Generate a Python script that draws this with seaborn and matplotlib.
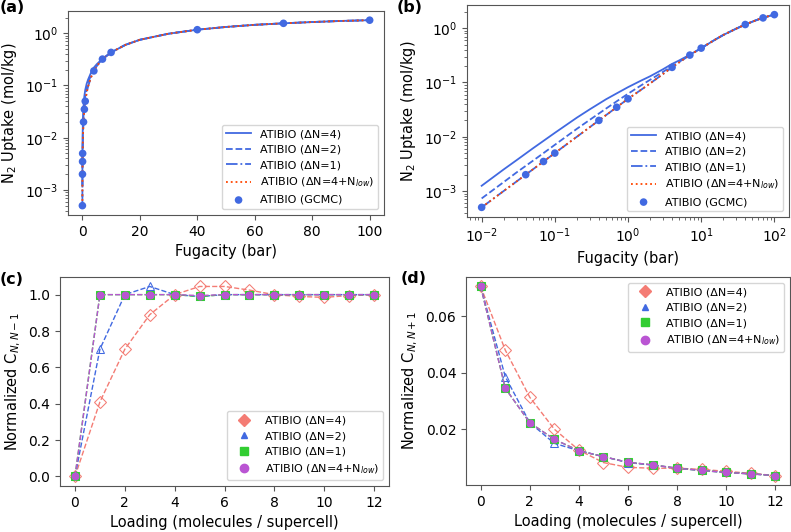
import numpy as np
import pandas as pd
import matplotlib
matplotlib.use('Agg')
import matplotlib.pyplot as plt
from matplotlib.lines import Line2D
import seaborn as sns

# datos de isotermas (fugacidad en bar, captación en mol/kg)
fug = [0.01, 0.02, 0.03, 0.05, 0.07, 0.1, 0.2, 0.3, 0.5, 0.7, 1, 1.5, 2, 3, 4, 5, 7,
       10, 15, 20, 30, 40, 50, 60, 70, 80, 90, 100]
up_dn4 = [1.25e-3, 2.5e-3, 3.7e-3, 6.1e-3, 8.4e-3, 1.18e-2, 2.25e-2, 3.2e-2, 4.9e-2, 6.3e-2,
          8.2e-2, 0.108, 0.13, 0.175, 0.22, 0.255, 0.325,
          0.43, 0.60, 0.75, 0.98, 1.17, 1.32, 1.45, 1.55, 1.64, 1.72, 1.78]
up_dn2 = [7.3e-4, 1.46e-3, 2.2e-3, 3.6e-3, 5.0e-3, 7.1e-3, 1.4e-2, 2.05e-2, 3.3e-2, 4.5e-2,
          6.2e-2, 8.8e-2, 0.112, 0.157, 0.2, 0.24, 0.32,
          0.43, 0.60, 0.75, 0.98, 1.17, 1.32, 1.45, 1.55, 1.64, 1.72, 1.78]
up_dn1 = [5e-4, 1e-3, 1.5e-3, 2.5e-3, 3.5e-3, 5e-3, 1e-2, 1.5e-2, 2.5e-2, 3.5e-2,
          5e-2, 7.3e-2, 0.096, 0.143, 0.19, 0.235, 0.32,
          0.43, 0.60, 0.75, 0.98, 1.17, 1.32, 1.45, 1.55, 1.64, 1.72, 1.78]
up_low = [5e-4, 1e-3, 1.5e-3, 2.5e-3, 3.5e-3, 5e-3, 1e-2, 1.5e-2, 2.5e-2, 3.5e-2,
          5e-2, 7.3e-2, 0.096, 0.143, 0.19, 0.235, 0.32,
          0.43, 0.60, 0.75, 0.98, 1.17, 1.32, 1.45, 1.55, 1.64, 1.72, 1.78]

fug_gcmc = [0.01, 0.04, 0.07, 0.1, 0.4, 0.7, 1, 4, 7, 10, 40, 70, 100]
up_gcmc = [5e-4, 2e-3, 3.5e-3, 5e-3, 2e-2, 3.5e-2, 5e-2, 0.19, 0.32, 0.43, 1.17, 1.55, 1.78]

# datos de correlaciones normalizadas
loading = list(range(13))
cm_dn4 = [0.0, 0.41, 0.70, 0.89, 1.0, 1.045, 1.045, 1.025, 1.0, 0.99, 0.985, 0.995, 1.0]
cm_dn2 = [0.0, 0.70, 1.0, 1.045, 1.0, 0.99, 1.0, 1.0, 1.0, 1.0, 1.0, 1.0, 1.0]
cm_dn1 = [0.0, 1.0, 1.0, 1.0, 1.0, 0.99, 1.0, 1.0, 1.0, 1.0, 1.0, 1.0, 1.0]
cm_low = [0.0, 1.0, 1.0, 1.0, 1.0, 0.995, 1.0, 1.0, 1.0, 1.0, 1.0, 1.0, 1.0]

cp_dn4 = [0.0705, 0.048, 0.0313, 0.020, 0.0126, 0.0082, 0.0065, 0.0062, 0.0062, 0.0058, 0.0051, 0.0044, 0.0036]
cp_dn2 = [0.0705, 0.0386, 0.0223, 0.0150, 0.0124, 0.0103, 0.0082, 0.0073, 0.0062, 0.0054, 0.0047, 0.0042, 0.0036]
cp_dn1 = [0.0705, 0.0345, 0.0223, 0.0164, 0.0124, 0.0103, 0.0083, 0.0074, 0.0062, 0.0054, 0.0047, 0.0042, 0.0036]
cp_low = [0.0705, 0.0345, 0.0223, 0.0164, 0.0124, 0.0103, 0.0083, 0.0074, 0.0062, 0.0054, 0.0047, 0.0042, 0.0036]

labels = ['ATIBIO (ΔN=4)', 'ATIBIO (ΔN=2)', 'ATIBIO (ΔN=1)', 'ATIBIO (ΔN=4+N$_{low}$)']
blue = '#4169E1'
red = '#FF4500'
colors = ['#F47C74', blue, '#32CD32', '#BA55D3']
markers = ['D', '^', 's', 'o']

plt.rcParams['xtick.labelsize'] = 10
plt.rcParams['ytick.labelsize'] = 10
plt.rcParams['axes.labelsize'] = 10.5
plt.rcParams['axes.edgecolor'] = '#555555'
plt.rcParams['xtick.color'] = '#555555'
plt.rcParams['ytick.color'] = '#555555'
plt.rcParams['xtick.labelcolor'] = 'black'
plt.rcParams['ytick.labelcolor'] = 'black'

fig = plt.figure(figsize=(7.91, 5.32), dpi=100)
ax_a = fig.add_axes([0.086, 0.596, 0.3995, 0.3835])
ax_b = fig.add_axes([0.5904, 0.5921, 0.4071, 0.3985])
ax_c = fig.add_axes([0.0759, 0.0865, 0.4159, 0.3929])
ax_d = fig.add_axes([0.5891, 0.0883, 0.4096, 0.391])

# Paneles (a) y (b): isotermas
iso = pd.DataFrame({'fug': fug, 'dn4': up_dn4, 'dn2': up_dn2, 'dn1': up_dn1, 'low': up_low})
gcmc = pd.DataFrame({'fug': fug_gcmc, 'up': up_gcmc})
styles = [('dn4', '-', blue), ('dn2', '--', blue), ('dn1', '-.', blue), ('low', ':', red)]
for ax in [ax_a, ax_b]:
    for (col, ls, c), lab in zip(styles, labels):
        sns.lineplot(data=iso, x='fug', y=col, ax=ax, color=c, linestyle=ls,
                     linewidth=1.3, label=lab)
    sns.scatterplot(data=gcmc, x='fug', y='up', ax=ax, color=blue, s=30,
                    edgecolor='none', label='ATIBIO (GCMC)', zorder=5)
    ax.set_yscale('log')
    ax.set_xlabel('Fugacity (bar)')
    ax.set_ylabel('N$_2$ Uptake (mol/kg)')
    ax.legend(loc='lower right', fontsize=8, labelspacing=0.5, handlelength=2.2)
ax_b.set_xscale('log')

# Paneles (c) y (d): correlaciones normalizadas
def plot_corr(ax, series, ylabel, loc):
    df = pd.DataFrame({'loading': loading})
    for i, vals in enumerate(series):
        df['s'] = vals
        open_mk = i < 2
        sns.lineplot(data=df, x='loading', y='s', ax=ax, color=colors[i], linestyle='--',
                     linewidth=1.0, marker=markers[i], markersize=6 if i != 3 else 5,
                     markerfacecolor='none' if open_mk else colors[i],
                     markeredgecolor=colors[i], legend=False)
    handles = [Line2D([], [], ls='none', marker=m, color=c, markersize=6 if m != '^' else 5)
               for m, c in zip(markers, colors)]
    ax.legend(handles, labels, loc=loc, fontsize=8, labelspacing=0.5, handlelength=2.2)
    ax.set_xlabel('Loading (molecules / supercell)')
    ax.set_ylabel(ylabel)
    ax.set_xticks(range(0, 13, 2))

plot_corr(ax_c, [cm_dn4, cm_dn2, cm_dn1, cm_low], 'Normalized C$_{N,N-1}$', 'lower right')
plot_corr(ax_d, [cp_dn4, cp_dn2, cp_dn1, cp_low], 'Normalized C$_{N,N+1}$', 'upper right')
ax_d.set_yticks([0.02, 0.04, 0.06])

for x, y, t in [(0.0, 0.985, '(a)'), (0.502, 0.985, '(b)'), (0.0, 0.474, '(c)'), (0.506, 0.4756, '(d)')]:
    fig.text(x, y, t, fontsize=11.5, fontweight='bold', va='center', ha='left')

plt.savefig('out.png', dpi=100)
